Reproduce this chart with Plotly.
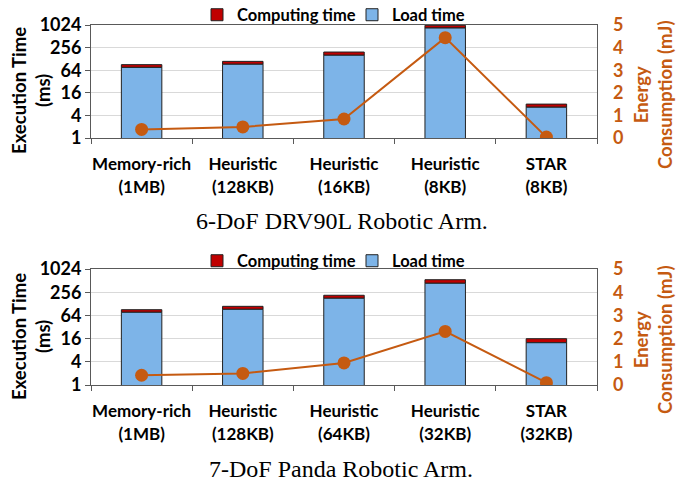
import math
import plotly.graph_objects as go

# ---------------- data ----------------
categories_top = ["Memory-rich<br>(1MB)", "Heuristic<br>(128KB)", "Heuristic<br>(16KB)",
                  "Heuristic<br>(8KB)", "STAR<br>(8KB)"]
load_top = [76, 92, 160, 850, 6.6]
compute_top = [14, 18, 35, 155, 1.4]
energy_top = [0.38, 0.49, 0.84, 4.44, 0.04]

categories_bottom = ["Memory-rich<br>(1MB)", "Heuristic<br>(128KB)", "Heuristic<br>(64KB)",
                     "Heuristic<br>(32KB)", "STAR<br>(32KB)"]
load_bottom = [77, 92, 178, 436, 12.5]
compute_bottom = [13, 18, 35, 104, 3.4]
energy_bottom = [0.42, 0.50, 0.95, 2.31, 0.10]

log_ticks = [1, 4, 16, 64, 256, 1024]
energy_ticks = [0, 1, 2, 3, 4, 5]
caption_top = "6-DoF DRV90L Robotic Arm."
caption_bottom = "7-DoF Panda Robotic Arm."

# ---------------- style ----------------
BLUE = "#7DB4E8"
RED = "#C00000"
ORANGE = "#C55A11"
FONT = "Lato"
W, H = 676, 484
L, R, T, B = 91, 79, 25, 99
PH = H - T - B
PW = W - L - R


def py(px):  # pixel y (from top) -> paper y
    return (H - B - px) / PH


def pxx(px):  # pixel x -> paper x
    return (px - L) / PW


fig = go.Figure()

for cats, load, comp, energy, xa, ya, ya2, leg in [
    (categories_top, load_top, compute_top, energy_top, "x", "y", "y2", "legend"),
    (categories_bottom, load_bottom, compute_bottom, energy_bottom, "x2", "y3", "y4", "legend2"),
]:
    fig.add_trace(go.Bar(x=cats, y=comp, base=load, name="Computing time",
                         marker=dict(color=RED, line=dict(color="#222222", width=1)),
                         width=0.4, xaxis=xa, yaxis=ya, legend=leg))
    fig.add_trace(go.Bar(x=cats, y=load, name="Load time",
                         marker=dict(color=BLUE, line=dict(color="#222222", width=1)),
                         width=0.4, xaxis=xa, yaxis=ya, legend=leg))
    fig.add_trace(go.Scatter(x=cats, y=energy, mode="lines+markers", showlegend=False,
                             line=dict(color=ORANGE, width=2),
                             marker=dict(color=ORANGE, size=13),
                             xaxis=xa, yaxis=ya2))

xcommon = dict(type="category", showline=True, linecolor="#595959", linewidth=1,
               mirror=True, ticks="outside", tickson="boundaries", ticklen=5,
               tickcolor="#595959", showgrid=False, tickangle=0, automargin=False,
               ticklabelstandoff=11,
               tickfont=dict(family=FONT, size=17, color="black", weight="bold"))
ylog = dict(type="log", range=[0, math.log10(1024)], tickvals=log_ticks,
            ticktext=[str(v) for v in log_ticks], showgrid=True, gridcolor="#D9D9D9",
            gridwidth=1, showline=True, linecolor="#595959", mirror=True,
            ticks="outside", ticklen=5, tickcolor="#595959",
            zeroline=False, automargin=False,
            tickfont=dict(family=FONT, size=18, color="black", weight="bold"))
yen = dict(range=[0, 5], tickvals=energy_ticks, side="right", showgrid=False,
           zeroline=False, ticks="", showline=False, ticklabelstandoff=15,
           automargin=False,
           tickfont=dict(family=FONT, size=18, color=ORANGE, weight="bold"))

top_dom = [py(138), 1.0]
bot_dom = [0.0, py(269)]

legfont = dict(family=FONT, size=16.5, color="black", weight="bold")
fig.update_layout(
    width=W, height=H, margin=dict(l=L, r=R, t=T, b=B, pad=0, autoexpand=False),
    plot_bgcolor="white", paper_bgcolor="white", barmode="overlay",
    xaxis=dict(domain=[0, 1], anchor="y", **xcommon),
    yaxis=dict(domain=top_dom, anchor="x", **ylog),
    yaxis2=dict(overlaying="y", anchor="x", **yen),
    xaxis2=dict(domain=[0, 1], anchor="y3", **xcommon),
    yaxis3=dict(domain=bot_dom, anchor="x2", **ylog),
    yaxis4=dict(overlaying="y3", anchor="x2", **yen),
    legend=dict(orientation="h", x=pxx(197), y=py(15), xanchor="left", yanchor="middle",
                font=legfont, traceorder="normal", itemwidth=30,
                entrywidth=110, bgcolor="rgba(0,0,0,0)"),
    legend2=dict(orientation="h", x=pxx(197), y=py(261), xanchor="left", yanchor="middle",
                 font=legfont, traceorder="normal", itemwidth=30,
                 entrywidth=110, bgcolor="rgba(0,0,0,0)"),
    showlegend=True,
)

titlefont_black = dict(family=FONT, size=18.5, color="black", weight="bold")
titlefont_orange = dict(family=FONT, size=18.5, color=ORANGE, weight="bold")
for yy in [91, 337]:
    fig.add_annotation(text="Execution Time<br>(ms)", xref="paper", yref="paper",
                       x=pxx(31), y=py(yy), textangle=-90, showarrow=False,
                       xanchor="center", yanchor="middle", font=titlefont_black)
for yy in [95, 340]:
    fig.add_annotation(text="Energy<br>Consumption (mJ)", xref="paper", yref="paper",
                       x=pxx(653), y=py(yy), textangle=-90, showarrow=False,
                       xanchor="center", yanchor="middle", font=titlefont_orange)
for txt, xx, yy in [(caption_top, 342, 221), (caption_bottom, 341, 469)]:
    fig.add_annotation(text=txt, xref="paper", yref="paper", x=pxx(xx), y=py(yy),
                       showarrow=False, xanchor="center", yanchor="middle",
                       font=dict(family="Liberation Serif", size=24, color="black"))

fig.write_html("out.html", config={"displayModeBar": False},
               post_script="document.body.style.margin='0';document.body.style.overflow='hidden';")
